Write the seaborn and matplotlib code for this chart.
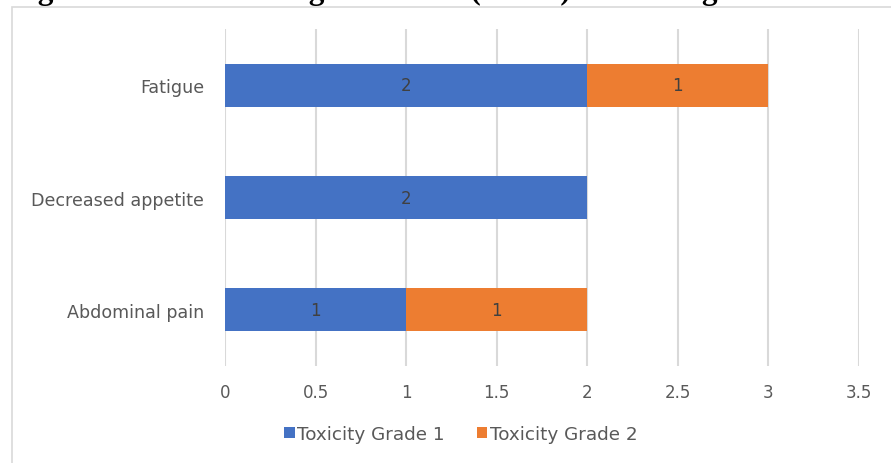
import matplotlib
matplotlib.use("Agg")
import matplotlib.pyplot as plt
from matplotlib.patches import Rectangle, Patch
import seaborn as sns
import pandas as pd

# Adverse events and counts per toxicity grade
events = ["Fatigue", "Decreased appetite", "Abdominal pain"]
grade1 = [2, 2, 1]
grade2 = [1, 0, 1]
series_names = ["Toxicity Grade 1", "Toxicity Grade 2"]
x_ticks = [0, 0.5, 1, 1.5, 2, 2.5, 3, 3.5]
x_tick_labels = ["0", "0.5", "1", "1.5", "2", "2.5", "3", "3.5"]

BLUE = "#4472C4"
ORANGE = "#ED7D31"
GRID = "#D9D9D9"
TEXT = "#595959"
FONT = "DejaVu Sans"

sns.set_theme(style="white")
plt.rcParams["font.family"] = [FONT]

df = pd.DataFrame({
    "event": events,
    "g1": grade1,
    "g2": grade2,
})
df["total"] = df["g1"] + df["g2"]

W, H = 891, 464
fig = plt.figure(figsize=(W / 100, H / 100), dpi=100)
fig.patch.set_facecolor("white")

# chart frame
fig.add_artist(Rectangle((12 / W, -0.05), 1.2, 1 - 8 / H + 0.05,
                         transform=fig.transFigure, fill=False,
                         edgecolor="#D9D9D9", linewidth=1.2))

# figure caption sitting above the chart frame, mostly outside the page
fig.text(10 / W, 1 - 5.5 / H, "Figure 1: Adverse Drug Reactions (ADRs) Occurring in 4 Patients",
         fontsize=22.5, fontweight="bold", family=["Liberation Serif"],
         ha="left", va="bottom", color="black")

left, right = 225 / W, 859 / W
top, bottom = 1 - 30 / H, 1 - 367 / H
ax = fig.add_axes([left, bottom, right - left, top - bottom])

# stacked bars: totals first (orange), grade 1 drawn over them (blue)
sns.barplot(data=df, y="event", x="total", color=ORANGE, width=0.385,
            saturation=1, ax=ax, orient="h", zorder=3, linewidth=0)
sns.barplot(data=df, y="event", x="g1", color=BLUE, width=0.385,
            saturation=1, ax=ax, orient="h", zorder=4, linewidth=0)

# value labels centred in each segment
for i, row in df.iterrows():
    if row["g1"] > 0:
        ax.text(row["g1"] / 2, i, str(row["g1"]), ha="center", va="center",
                fontsize=12, color="#404040", zorder=5)
    if row["g2"] > 0:
        ax.text(row["g1"] + row["g2"] / 2, i, str(row["g2"]), ha="center",
                va="center", fontsize=12, color="#404040", zorder=5)

ax.set_xlim(0, 3.5)
ax.set_ylim(2.5, -0.5)
ax.set_xticks(x_ticks)
ax.set_xticklabels(x_tick_labels)
ax.xaxis.grid(True, color=GRID, linewidth=1.5, zorder=0)
ax.set_axisbelow(True)
ax.set_xlabel("")
ax.set_ylabel("")
for s in ax.spines.values():
    s.set_visible(False)
ax.tick_params(axis="x", length=0, pad=12, labelsize=12, labelcolor=TEXT)
ax.tick_params(axis="y", length=0, pad=15, labelsize=12.6, labelcolor=TEXT)

handles = [Patch(facecolor=BLUE, edgecolor="none"), Patch(facecolor=ORANGE, edgecolor="none")]
fig.legend(handles, series_names, loc="center", bbox_to_anchor=(461 / W, 1 - 435 / H),
           ncol=2, frameon=False, fontsize=13.2, labelcolor=TEXT,
           handlelength=0.55, handleheight=0.55, handletextpad=0.15, columnspacing=1.75)

fig.savefig("out.png", dpi=100)
